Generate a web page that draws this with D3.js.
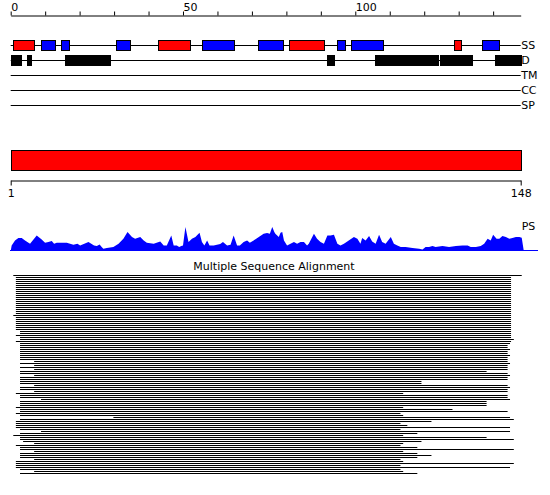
<!DOCTYPE html>
<html><head><meta charset="utf-8">
<script src="https://cdn.jsdelivr.net/npm/d3@7"></script>
<style>
html,body{margin:0;padding:0;background:#fff;}
svg{display:block;}
text{font-family:"DejaVu Sans",sans-serif;font-size:11px;fill:#000;}
</style></head>
<body>
<script>
// ---------- DATA ----------
const seqLength = 148;
const trackLabels = ["SS","D","TM","CC","SP"];
const axisTicks = [0,10,20,30,40,50,60,70,80,90,100,110,120,130,140];
const axisLabels = [0,50,100];
// secondary structure: [start,end,type] (H = helix red, E = strand blue)
const ssStart = [0.75, 8.9, 14.7, 30.6, 42.8, 55.6, 71.9, 80.9, 94.8, 98.8, 128.7, 136.9];
const ssEnd   = [6.85, 12.8, 16.8, 34.7, 51.9, 64.7, 79.0, 90.8, 96.9, 108.0, 130.8, 141.8];
const ssType  = ["H","E","E","E","H","E","E","H","E","E","H","E"];
// disorder segments
const dStart = [0, 4.8, 15.8, 91.8, 105.7, 124.6, 140.5];
const dEnd   = [3.0, 5.9, 28.8, 93.8, 123.9, 133.8, 148];
// domain bar
const domainStart = [0];
const domainEnd = [148];
const rangeLabels = [1,148];
// PS profile
const psPos = [0,0.28,1.25,2.22,3.19,4.16,5.61,7.55,9.0,9.97,10.94,11.91,12.59,13.36,14.33,16.27,18.2,19.37,20.15,22.57,24.2,25.0,25.8,26.4,26.9,27.9,29.8,31.3,32.7,33.9,35.2,36.1,37.6,38.6,39.5,41.5,43.4,44.4,45.3,46.6,47.3,48.2,48.9,49.5,50.0,50.7,51.6,52.6,53.6,54.8,55.5,56.2,57.0,57.7,58.9,60.8,61.6,62.8,63.8,64.7,65.7,66.5,67.6,68.6,69.4,70.5,72.0,73.4,74.4,75.2,75.9,76.5,76.8,77.8,78.3,78.8,79.3,80.2,81.2,82.2,83.1,84.1,85.1,86.0,86.5,88.0,88.9,89.9,90.9,91.9,92.8,93.8,94.8,95.7,96.7,98.1,99.6,100.6,101.5,102.0,103.0,104.0,104.9,105.9,106.9,107.8,108.8,110.3,111.2,112.2,113.2,114.6,116.6,118.5,119.5,120.4,121.4,122.4,123.3,125.3,127.2,129.2,131.1,132.6,133.5,135.0,136.4,137.4,138.4,139.3,140.0,141.0,141.8,142.7,143.7,144.7,145.6,146.6,147.6,148.3,148.9];
const psVal = [0,5.6,10.6,13,13,10.6,7.3,15.6,11.6,8.3,9,10,7.3,8.3,8.3,8.3,6.3,7.3,5.6,9,5.6,5,6.6,4,2.3,3,4,7.3,12.3,19,14,12.3,14,10.6,8.3,7.3,9.6,5.6,5.6,15.6,5.6,5.6,4,5,5.6,24,9,12.3,14,18.3,9,5.6,10.6,5.6,5.6,7,9,5.6,6.3,15.6,5.6,5.6,9,10.6,8.3,10.6,14,17.3,18,17.3,24,19,17.3,14,18.3,19,10.6,5.6,7.3,9,7.3,9,9,5.6,7.3,17.3,12.3,9,7.3,15.6,15.6,16.3,7.3,5.6,7.3,10.6,14,12.3,7.3,13,10.6,15,9.6,7.3,16.3,9,7.3,14,7.3,5.6,4,4,3,2.3,1.6,4,4,5,4,5,4,5,5.6,5.6,4,4,5,7.3,12.3,10.6,16.3,12.3,12.3,15,14,12.3,13,14,14,13.3,0];
// multiple sequence alignment: aligned start / end of each hit
const msaStart = [0.75,
 1.5,1.5,1.5,1.5,1.5,1.5,1.5,1.5,1.5,1.5,1.5,1.5,1.5,1.5,1.5,1.5,1.5,1.5,1.5,
 0.75,1.5,1.5,1.5,1.5,1.5,1.5,1.5,2.7,2.7,1.5,2.7,2.7,1.5,
 2.7,2.7,2.7,2.7,2.7,2.7,2.7,2.7,2.7,6.8,2.7,6.8,2.7,6.8,
 2.7,2.7,6.8,2.7,2.7,2.7,2.7,6.8,2.7,2.7,6.8,1.5,2.7,2.7,8.8,2.7,2.7,2.7,1.5,2.7,
 2.7,1.5,2.7,29.8,2.7,1.5,1.5,1.5,1.5,2.7,8.8,2.7,0.75,2.7,2.7,3.6,6.8,1.5,2.7,2.7,
 6.8,2.7,2.7,2.7,6.8,1.5,1.5,1.5,1.5,2.7,6.8,2.7];
const msaEnd = [148.3,
 145.2,145.2,145.2,145.2,145.2,145.2,145.2,145.2,145.2,145.2,145.2,145.2,145.2,145.2,145.2,145.2,145.2,145.2,145.2,
 145.2,145.2,145.2,145.2,145.2,145.2,145.2,145.2,145.2,145.2,145.2,145.2,146,145.2,
 144.9,144.2,144.2,144.9,144.2,144.2,144.9,144.2,144.2,144.2,144.9,144.2,144.2,144.2,
 138.1,144.2,144.9,144.2,144.2,119.2,119.2,144.2,144.9,144.2,144.2,113.9,144.2,144.2,144.9,138.1,138.1,138.1,113.9,128.2,
 144.2,113.1,113.9,144.9,146,122.1,113.1,115.1,144.9,113.1,144.9,118,113.9,138.1,146,119.2,113.9,113.1,118,146,
 113.9,118,122.1,118,113.1,113.9,146,113.1,144.9,113.1,113.9,118];
const msaTitle = "Multiple Sequence Alignment";

// ---------- DRAW ----------
const W = 550, H = 495;
const svg = d3.select("body").append("svg").attr("width",W).attr("height",H);
const x = d3.scaleLinear().domain([0,seqLength]).range([10.7,520.7]);
const xr = d3.scaleLinear().domain([rangeLabels[0],rangeLabels[1]]).range([10.7,520.7]);

// top axis
const topAxis = d3.axisTop(x).tickValues(axisTicks).tickSize(4).tickSizeOuter(0)
  .tickFormat(d => axisLabels.includes(d) ? d : "");
const gTop = svg.append("g").attr("transform","translate(0,15.5)").call(topAxis);
gTop.selectAll("text").attr("text-anchor","start").attr("y",-4.5).attr("dy",0)
  .style("font-family","DejaVu Sans").style("font-size","11px");
gTop.select(".domain").attr("stroke","#000");

// tracks
const trackY = d3.scalePoint().domain(trackLabels).range([45,105]);
svg.append("g").selectAll("line").data(trackLabels).join("line")
  .attr("x1",x(0)).attr("x2",x(seqLength))
  .attr("y1",d=>trackY(d)+0.5).attr("y2",d=>trackY(d)+0.5)
  .attr("stroke","#000").attr("stroke-width",1);
svg.append("g").selectAll("text").data(trackLabels).join("text")
  .attr("x",x(seqLength)+0.5).attr("y",d=>trackY(d)+0.5).attr("dy","0.36em")
  .text(d=>d);

// SS boxes
svg.append("g").selectAll("rect").data(ssStart.map((s,i)=>({s,e:ssEnd[i],t:ssType[i]}))).join("rect")
  .attr("x",d=>Math.round(x(d.s))+0.5).attr("width",d=>Math.round(x(d.e))-Math.round(x(d.s)))
  .attr("y",trackY("SS")-4.5).attr("height",10)
  .attr("fill",d=>d.t==="H"?"#ff0000":"#0000ff").attr("stroke","#000").attr("stroke-width",1);
// disorder boxes
svg.append("g").selectAll("rect").data(dStart.map((s,i)=>({s,e:dEnd[i]}))).join("rect")
  .attr("x",d=>Math.round(x(d.s))).attr("width",d=>Math.round(x(d.e))-Math.round(x(d.s))+1)
  .attr("y",trackY("D")-5).attr("height",11).attr("fill","#000");

// domain bar
svg.append("g").selectAll("rect").data(domainStart.map((s,i)=>({s,e:domainEnd[i]}))).join("rect")
  .attr("x",d=>Math.round(x(d.s))+0.5).attr("width",d=>Math.round(x(d.e))-Math.round(x(d.s)))
  .attr("y",150.5).attr("height",20)
  .attr("fill","#ff0000").attr("stroke","#000").attr("stroke-width",1);

// bottom range axis
const botAxis = d3.axisBottom(xr).tickValues(rangeLabels).tickSize(5).tickSizeOuter(0).tickFormat(d=>d);
const gBot = svg.append("g").attr("transform","translate(0,180.5)").call(botAxis);
gBot.selectAll("text").attr("y",9).attr("dy","0.71em").style("font-family","DejaVu Sans").style("font-size","11px");

// PS profile
const yPS = d3.scaleLinear().domain([0,30]).range([251,221]);
const area = d3.area().x((d,i)=>x(psPos[i])).y0(yPS(0)).y1(d=>yPS(d));
svg.append("path").datum(psVal).attr("d",area).attr("fill","#0000ff");
svg.append("line").attr("x1",10).attr("x2",538).attr("y1",250.5).attr("y2",250.5).attr("stroke","#0000ff");
svg.append("text").attr("x",x(seqLength)+1).attr("y",230).text("PS");

// MSA
svg.append("text").attr("x",274).attr("y",270).attr("text-anchor","middle").text(msaTitle);
const yM = d3.scaleLinear().domain([0,msaStart.length-1]).range([275,275+2*(msaStart.length-1)]);
svg.append("g").selectAll("rect").data(msaStart.map((s,i)=>({s,e:msaEnd[i],i}))).join("rect")
  .attr("x",d=>x(d.s)).attr("width",d=>x(d.e)-x(d.s))
  .attr("y",d=>yM(d.i)).attr("height",1).attr("fill","#000");
</script>
</body></html>
